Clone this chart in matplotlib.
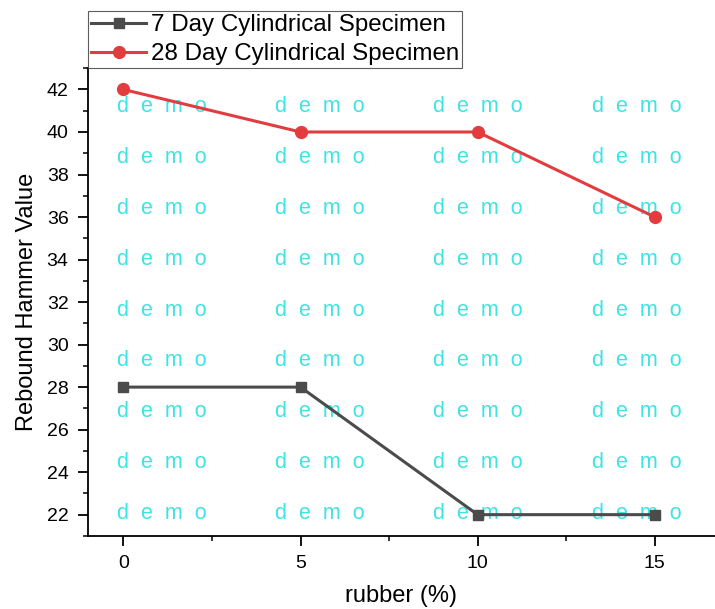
import numpy as np
import matplotlib
matplotlib.use('Agg')
from matplotlib import pyplot as plt
from matplotlib.ticker import MultipleLocator

plt.rcParams['font.family'] = ['Liberation Sans', 'DejaVu Sans']

# data
rubber = [0, 5, 10, 15]
day7 = [28, 28, 22, 22]
day28 = [42, 40, 40, 36]

fig = plt.figure(figsize=(7.15, 6.09), dpi=100)
ax = fig.add_axes([0.123, 0.12, 0.877, 0.768])

# watermark grid
for fx in [0.118, 0.370, 0.622, 0.876]:
    for i in range(9):
        ax.text(fx, 0.919 - i * 0.109, 'd  e  m  o', transform=ax.transAxes,
                color='#3fe3e3', fontsize=15.5, ha='center', va='center', zorder=1)

ax.plot(rubber, day7, color='#4b4b4b', lw=2.2, marker='s', ms=7,
        label='7 Day Cylindrical Specimen', zorder=3)
ax.plot(rubber, day28, color='#e23c3f', lw=2.2, marker='o', ms=8.5,
        label='28 Day Cylindrical Specimen', zorder=3)

ax.set_xlim(-1, 16.7)
ax.set_ylim(21, 43)
ax.xaxis.set_major_locator(MultipleLocator(5))
ax.xaxis.set_minor_locator(MultipleLocator(2.5))
ax.yaxis.set_major_locator(MultipleLocator(2))
ax.yaxis.set_minor_locator(MultipleLocator(1))
ax.tick_params(which='major', direction='out', length=7, width=1.3,
               labelsize=14, pad=7)
ax.tick_params(which='minor', direction='out', length=3.5, width=1.1)
for s in ['top', 'right']:
    ax.spines[s].set_visible(False)
for s in ['left', 'bottom']:
    ax.spines[s].set_linewidth(1.3)

ax.set_xlabel('rubber (%)', fontsize=17, labelpad=9)
ax.set_ylabel('Rebound Hammer Value', fontsize=17, labelpad=6)

leg = ax.legend(loc='lower left', bbox_to_anchor=(0, 1), fontsize=17.4,
                frameon=True, fancybox=False, edgecolor='#333333',
                borderpad=0.12, labelspacing=0.3, handlelength=2.3,
                handletextpad=0.17, borderaxespad=0)
leg.get_frame().set_linewidth(0.8)

fig.savefig('out.png', dpi=100)
